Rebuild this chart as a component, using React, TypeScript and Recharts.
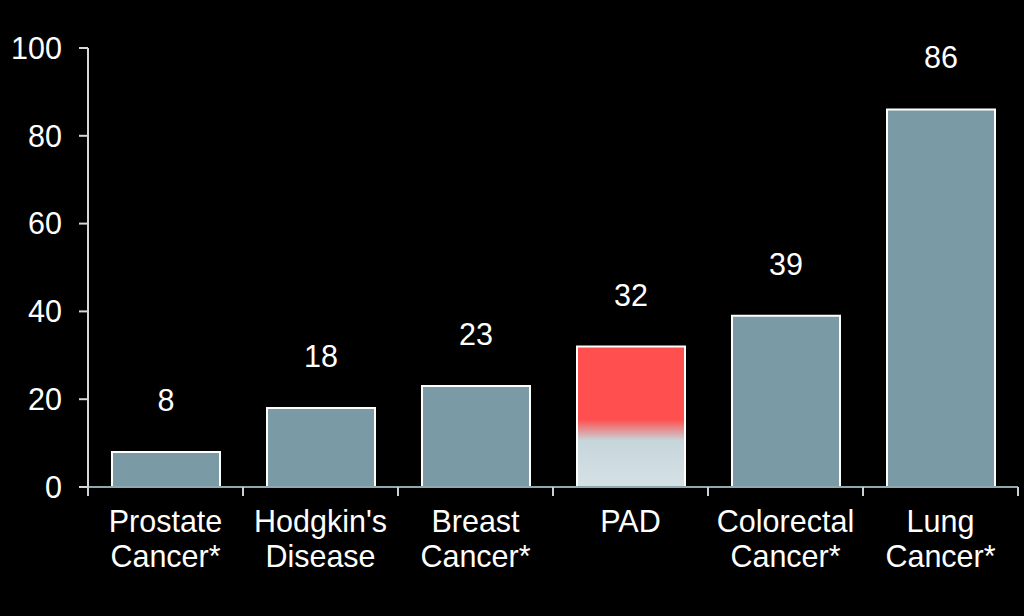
import React from 'react'
import { Bar, BarChart, Cell, LabelList, XAxis, YAxis } from 'recharts'

const categories = [
  'Prostate\nCancer*',
  "Hodgkin's\nDisease",
  'Breast\nCancer*',
  'PAD',
  'Colorectal\nCancer*',
  'Lung\nCancer*',
]
const values = [8, 18, 23, 32, 39, 86]
const yTicks = [0, 20, 40, 60, 80, 100]
const highlight = 'PAD'

const data = categories.map((name, i) => ({ name, value: values[i] }))

const FONT = '"Liberation Sans", Arial, sans-serif'
const FONT_SIZE = 30.5
const BAR_FILL = '#7A9BA5'
const TICK_COLOR = '#c8d2d6'

// category label plus the tick marks on the band edges
const CategoryTick = (props: any) => {
  const { x, y, payload, width, index } = props
  const lines = String(payload.value).split('\n')
  const half = payload.offset ?? width / categories.length / 2
  const isLast = index === categories.length - 1
  return (
    <g>
      <line x1={x - half} x2={x - half} y1={y} y2={y + 9} stroke={TICK_COLOR} strokeWidth={2} />
      {isLast && (
        <line x1={x + half} x2={x + half} y1={y} y2={y + 9} stroke={TICK_COLOR} strokeWidth={2} />
      )}
      <text x={x} y={y} textAnchor="middle" fill="#ffffff" fontSize={FONT_SIZE} fontFamily={FONT}>
        {lines.map((line, i) => (
          <tspan key={i} x={x} dy={i === 0 ? 45 : 35}>
            {line}
          </tspan>
        ))}
      </text>
    </g>
  )
}

const ValueLabel = (props: any) => {
  const { x, y, width, value } = props
  return (
    <text
      x={x + width / 2}
      y={y - 41}
      textAnchor="middle"
      fill="#ffffff"
      fontSize={FONT_SIZE}
      fontFamily={FONT}
    >
      {value}
    </text>
  )
}

export default function App() {
  return (
    <div style={{ position: 'absolute', left: 0, top: 0, width: 1024, height: 616, background: '#000' }}>
      <BarChart
        width={1024}
        height={616}
        data={data}
        margin={{ top: 48, right: 6, left: 0, bottom: 0 }}
      >
        <defs>
          <linearGradient id="padGradient" x1="0" y1="0" x2="0" y2="1">
            <stop offset="0%" stopColor="#FF4F4F" />
            <stop offset="52%" stopColor="#FF4F4F" />
            <stop offset="67%" stopColor="#C6D6DB" />
            <stop offset="100%" stopColor="#D6E1E5" />
          </linearGradient>
        </defs>
        <XAxis
          dataKey="name"
          interval={0}
          tick={<CategoryTick />}
          tickLine={false}
          tickSize={0}
          tickMargin={0}
          axisLine={{ stroke: '#8FA8B0', strokeWidth: 2 }}
          height={129}
        />
        <YAxis
          domain={[0, 100]}
          ticks={yTicks}
          width={88}
          tickSize={9}
          tickMargin={17}
          axisLine={{ stroke: '#d8d8d8', strokeWidth: 2 }}
          tickLine={{ stroke: '#d8d8d8', strokeWidth: 2 }}
          tick={{ fill: '#ffffff', fontSize: FONT_SIZE, fontFamily: FONT }}
        />
        <Bar dataKey="value" barSize={108} stroke="#ffffff" strokeWidth={2} isAnimationActive={false}>
          {data.map((d) => (
            <Cell key={d.name} fill={d.name === highlight ? 'url(#padGradient)' : BAR_FILL} />
          ))}
          <LabelList dataKey="value" content={<ValueLabel />} />
        </Bar>
      </BarChart>
    </div>
  )
}
